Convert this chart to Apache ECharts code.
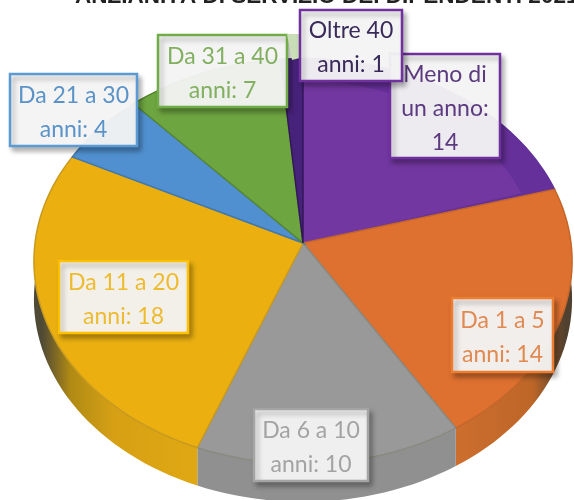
<!DOCTYPE html>
<html><head><meta charset="utf-8">
<style>html,body{margin:0;padding:0;background:#fff}#c{width:574px;height:500px;filter:blur(0.5px)}</style>
<script src="https://cdn.jsdelivr.net/npm/echarts@6/dist/echarts.min.js"></script>
</head><body><div id="c"></div>
<script>
const categories = ["Meno di un anno","Da 1 a 5 anni","Da 6 a 10 anni","Da 11 a 20 anni","Da 21 a 30 anni","Da 31 a 40 anni","Oltre 40 anni"];
const values = [14,14,10,18,4,7,1];
const labelLines = [["Meno di","un anno:","14"],["Da 1 a 5","anni: 14"],["Da 6 a 10","anni: 10"],["Da 11 a 20","anni: 18"],["Da 21 a 30","anni: 4"],["Da 31 a 40","anni: 7"],["Oltre 40","anni: 1"]];
const topColors = ["#7237a0","#de7030","#999999","#ebb010","#5090d0","#6da540","#47227a"];
const edgeColors = ["#62309a","#c4662a","#8a8a80","#c89a20","#3f78b0","#55852f","#331759"];
const wallStops = [
  [[0,"#4a2070"],[1,"#4a2070"]],
  [[0,"#cc6e2e"],[0.7,"#bd6628"],[1,"#4f4030"]],
  [[0,"#909090"],[1,"#909090"]],
  [[0,"#4f4a35"],[0.18,"#b08a14"],[0.45,"#d6a015"],[1,"#e0a812"]],
  [[0,"#3a6ea5"],[1,"#3a6ea5"]],
  [[0,"#4f7f2d"],[1,"#4f7f2d"]],
  [[0,"#331759"],[1,"#331759"]]];
const wallSpans = [[300,560],[455,566],[198,455],[42,200],[60,150],[140,290],[285,305]];
const borderColors = ["#7030a0","#ed7d31","#a5a5a5","#ffc000","#5b9bd5","#70ad47","#7030a0"];
const textColors = ["#5c3a80","#e08a52","#a3a3a3","#eebb30","#5b93c8","#82b060","#3a2a5a"];
const boxes = [[390,54,110,104],[452,298,101,74],[254,409,114,72],[59,261,129,72],[10,74,127,72],[158,35,129,72],[300,10,102,71]];
const title = "ANZIANITÀ DI SERVIZIO DEI DIPENDENTI 2021";

const P = {cx:303, cy:243, rx:268, a:201, p:0.09, depth:38};
const total = values.reduce((s,v)=>s+v,0);
function pt(deg,s){
  s = s===undefined?1:s;
  const t = deg*Math.PI/180, u = s*Math.sin(t), v = -s*Math.cos(t), w = 1-P.p*v;
  return [P.cx+P.rx*u/w, P.cy+P.a*v/w];
}
function arc(a0,a1,s){
  const n = Math.max(2,Math.ceil(Math.abs(a1-a0)/2)), r=[];
  for(let i=0;i<=n;i++) r.push(pt(a0+(a1-a0)*i/n,s));
  return r;
}
const startAngle = 0;
const spans = []; let acc = startAngle;
values.forEach(v=>{const d=v/total*360; spans.push([acc,acc+d]); acc+=d;});

function wallItem(params,api){
  const i = api.value(0), [a0,a1] = spans[i];
  const top = arc(a0,a1), bot = top.map(q=>[q[0],q[1]+P.depth]).reverse();
  const sp = wallSpans[i], st = wallStops[i];
  const fill = new echarts.graphic.LinearGradient(sp[0],0,sp[1],0,st.map(s=>({offset:s[0],color:s[1]})),true);
  return {type:'polygon',shape:{points:top.concat(bot)},style:{fill,stroke:null}};
}
function topItem(params,api){
  const i = api.value(0), [a0,a1] = spans[i];
  const kids = [{type:'polygon',shape:{points:[[P.cx,P.cy]].concat(arc(a0,a1))},
    style:{fill:topColors[i],stroke:edgeColors[i],lineWidth:1.5}}];
  if(i===0){
    kids[0].style.fill = '#66309a';
    kids.push({type:'polygon',shape:{points:[[P.cx,P.cy]].concat(arc(a0,a1-1,0.87))},style:{fill:topColors[i]}});
  }
  return {type:'group',children:kids};
}
function labelItem(params,api){
  const i = api.value(0), b = boxes[i], fs = 23, lh = 34, lines = labelLines[i];
  const h0 = b[1]+(b[3]-lines.length*lh)/2+lh/2+2.5;
  return {type:'group',children:[
    ...(i===6?[{type:'polygon',shape:{points:[[287,34],[300,34],[300,58],[292,60]]},style:{fill:'#c9ddb6'}}]:[]),
    {type:'rect',shape:{x:b[0],y:b[1],width:b[2],height:b[3]},
     style:{fill:'rgba(248,248,248,0.94)',stroke:borderColors[i],lineWidth:2.5,shadowBlur:5,shadowOffsetX:3,shadowOffsetY:4,shadowColor:'rgba(0,0,0,0.3)'}},
    ...lines.map((s,k)=>({type:'text',style:{x:b[0]+b[2]/2,y:h0+k*lh,text:s,fill:textColors[i],
      font:fs+'px Lato, "Open Sans", sans-serif',align:'center',verticalAlign:'middle'}}))
  ]};
}
const seriesData = values.map((v,i)=>({value:[i,v],name:categories[i]}));
const mk = (fn,z)=>({type:'custom',coordinateSystem:'none',renderItem:fn,data:seriesData,z,silent:true,animation:false,clip:false});
const chart = echarts.init(document.getElementById('c'),null,{renderer:'canvas'});
chart.setOption({
  animation:false,
  title:{text:title,left:70,top:-20,textStyle:{fontFamily:'Liberation Sans',fontWeight:'bold',fontSize:22.5,color:'#222'}},
  series:[mk(wallItem,1),mk(topItem,2),mk(labelItem,3)]
});
</script></body></html>
